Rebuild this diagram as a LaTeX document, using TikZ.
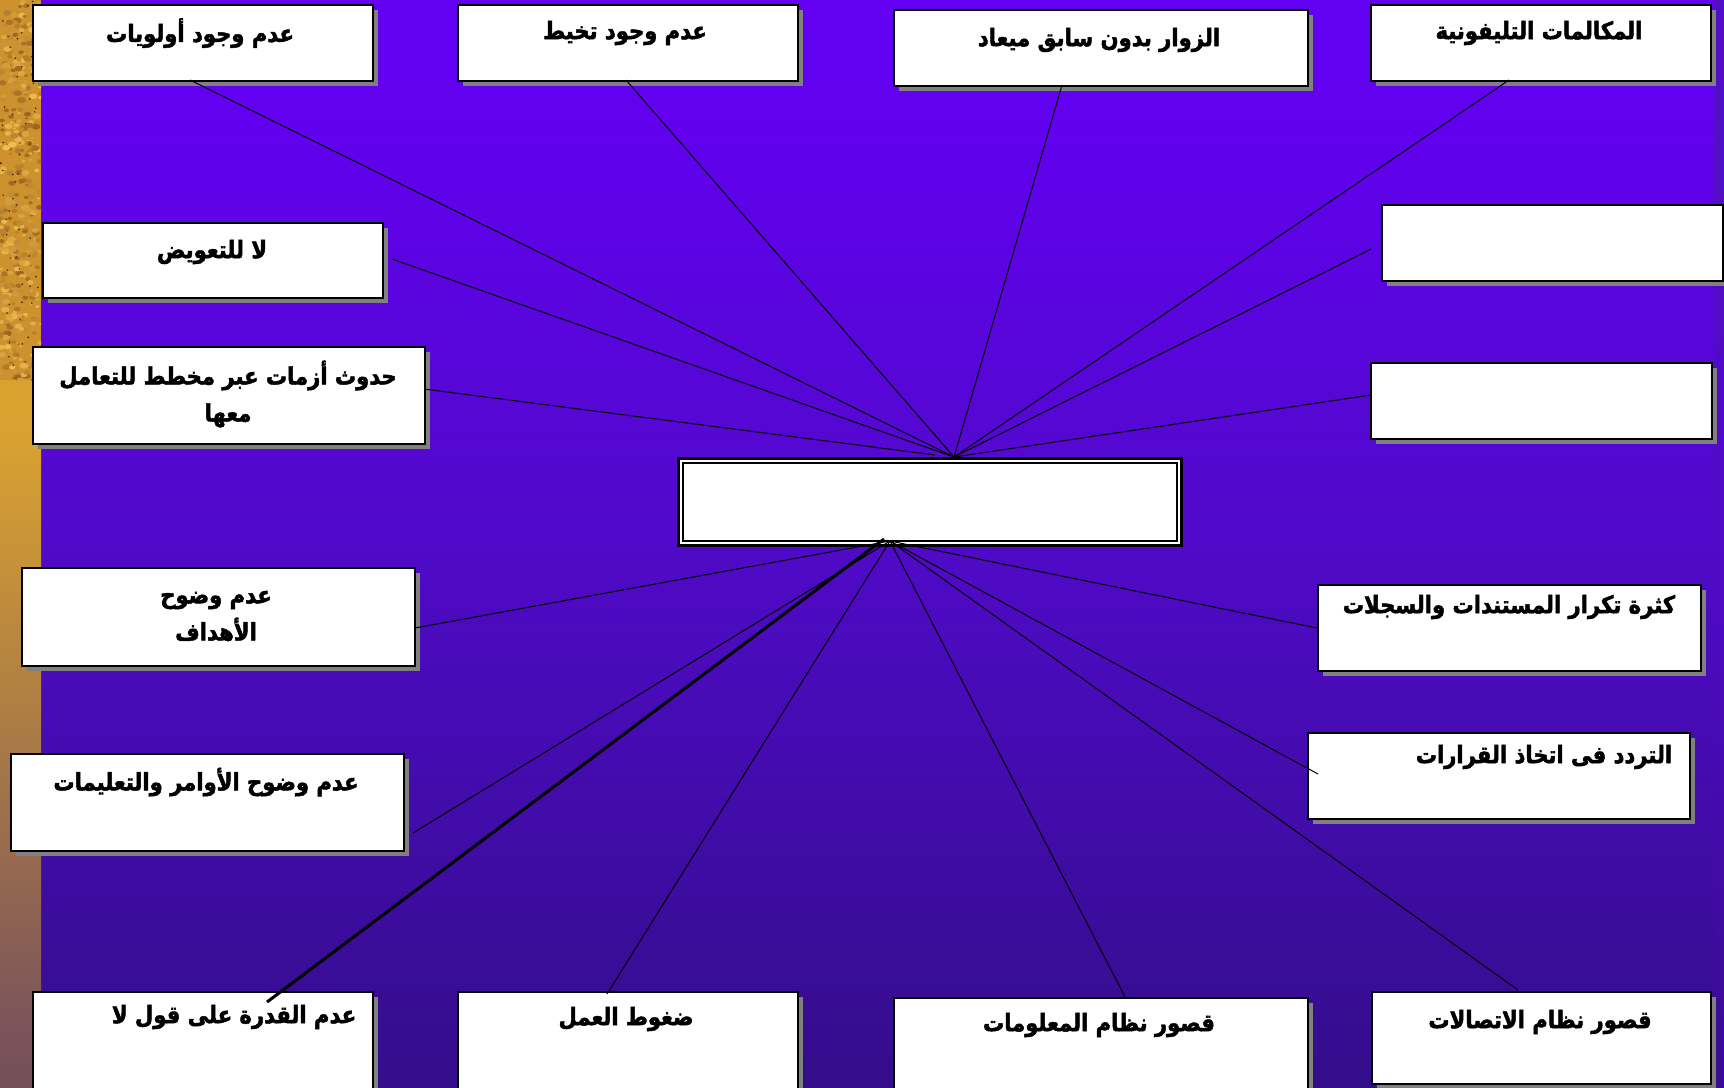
\documentclass[tikz,border=0pt]{standalone}
\usepackage{fontspec}
\newfontfamily\arabicfont[Script=Arabic, FakeBold=2, FakeStretch=0.88]{DejaVu Sans Bold}
\TeXXeTstate=1
\usetikzlibrary{shadows}
\definecolor{bgtop}{RGB}{102,0,250}
\definecolor{bgtopb}{RGB}{98,0,240}
\definecolor{bgmid}{RGB}{80,10,200}
\definecolor{bglow}{RGB}{45,14,125}
\definecolor{bgbot}{RGB}{32,12,88}
\definecolor{stripA}{RGB}{228,172,30}
\definecolor{stripB}{RGB}{215,160,50}
\definecolor{stripC}{RGB}{125,85,90}
\definecolor{stripD}{RGB}{70,45,85}
\definecolor{sandbase}{RGB}{205,145,45}
\definecolor{sandlight}{RGB}{238,190,80}
\definecolor{sanddark}{RGB}{160,100,30}
\definecolor{rstripT}{RGB}{85,18,195}
\definecolor{rstripB}{RGB}{34,12,86}
\definecolor{shadowgray}{RGB}{128,128,128}
\pgfdeclareverticalshading{bgshade}{100bp}{color(0bp)=(bgbot); color(20bp)=(bglow); color(50bp)=(bgmid); color(70bp)=(bgtopb); color(100bp)=(bgtop)}
\pgfdeclareverticalshading{stripshade}{100bp}{color(0bp)=(stripD); color(30bp)=(stripC); color(70bp)=(stripB); color(100bp)=(stripA)}
\pgfdeclareverticalshading{rstripshade}{100bp}{color(0bp)=(rstripB); color(50bp)=(bgmid); color(100bp)=(rstripT)}
\tikzset{
  box/.style={draw=black, line width=1.6pt, fill=white, inner sep=0pt, anchor=north west,
    drop shadow={shadow xshift=5pt, shadow yshift=-5pt, fill=shadowgray, opacity=1}},
  lbl/.style={font=\arabicfont\fontsize{24}{37}\selectfont, text=black, align=center, inner sep=0pt},
  conn/.style={draw=black, line width=1pt},
  thickconn/.style={draw=black, line width=3pt}
}
\begin{document}
\begin{tikzpicture}[x=1pt,y=-1pt]
\useasboundingbox (0,0) rectangle (1724,1087);
% background
\fill[shading=bgshade] (0,0) rectangle (1724,1087);
\fill[shading=stripshade] (0,380) rectangle (41,1087);
\fill[shading=rstripshade] (1714,0) rectangle (1724,1087);
\begin{scope}
  \clip (0,0) rectangle (41,380);
  \fill[sandbase] (0,0) rectangle (41,380);
  \pgfmathsetseed{7}
  \foreach \i in {1,...,420}{
    \pgfmathsetmacro\rx{rnd*41}
    \pgfmathsetmacro\ry{rnd*380}
    \pgfmathsetmacro\rs{1.5+rnd*3}
    \pgfmathtruncatemacro\rc{rnd*100}
    \fill[sandlight!\rc!sanddark] (\rx,\ry) ellipse ({\rs} and {\rs*0.7});
  }
  \foreach \i in {1,...,60}{
    \pgfmathsetmacro\rx{rnd*41}
    \pgfmathsetmacro\ry{rnd*380}
    \fill[black!60!sanddark] (\rx,\ry) circle (0.9);
  }
\end{scope}
% boxes
\node[box, minimum width=340pt, minimum height=76pt] (A) at (32,4) {};
\node[box, minimum width=340pt, minimum height=76pt] (B) at (457,4) {};
\node[box, minimum width=414pt, minimum height=76pt] (C) at (893,9) {};
\node[box, minimum width=340pt, minimum height=76pt] (D) at (1370,4) {};
\node[box, minimum width=341pt, minimum height=76pt] (E) at (1381,204) {};
\node[box, minimum width=341pt, minimum height=76pt] (F) at (1370,362) {};
\node[box, minimum width=340pt, minimum height=75pt] (G) at (42,222) {};
\node[box, minimum width=392pt, minimum height=97pt] (H) at (32,346) {};
\node[box, minimum width=393pt, minimum height=98pt] (J) at (21,567) {};
\node[box, minimum width=393pt, minimum height=97pt] (K) at (10,753) {};
\node[box, minimum width=383pt, minimum height=86pt] (L) at (1317,584) {};
\node[box, minimum width=382pt, minimum height=86pt] (M) at (1307,732) {};
\node[box, minimum width=340pt, minimum height=120pt] (N) at (32,991) {};
\node[box, minimum width=340pt, minimum height=120pt] (O) at (457,991) {};
\node[box, minimum width=414pt, minimum height=120pt] (P) at (893,997) {};
\node[box, minimum width=339pt, minimum height=92pt] (Q) at (1371,991) {};
% center box with double frame
\node[draw=black, line width=3pt, fill=white, inner sep=0pt, anchor=north west,
  minimum width=503pt, minimum height=87pt] (I) at (677,457) {};
\draw[line width=2pt] ([shift={(6pt,-6pt)}]I.north west) rectangle ([shift={(-6pt,6pt)}]I.south east);
% labels
\node[lbl] (tA) at (200,33) {\beginR عدم وجود أولويات\endR};
\node[lbl] (tB) at (625,33) {\beginR عدم وجود تخيط\endR};
\node[lbl] (tC) at (1099,40) {\beginR الزوار بدون سابق ميعاد\endR};
\node[lbl] (tD) at (1539,33) {\beginR المكالمات التليفونية\endR};
\node[lbl] (tG) at (212,252) {\beginR لا للتعويض\endR};
\node[lbl] (tH) at (228,394) {\beginR حدوث أزمات عبر مخطط للتعامل\endR\\\beginR معها\endR};
\node[lbl] (tJ) at (216,616) {\beginR عدم وضوح\endR\\\beginR الأهداف\endR};
\node[lbl] (tK) at (206,782) {\beginR عدم وضوح الأوامر والتعليمات\endR};
\node[lbl] (tL) at (1509,607) {\beginR كثرة تكرار المستندات والسجلات\endR};
\node[lbl] (tM) at (1544,757) {\beginR التردد فى اتخاذ القرارات\endR};
\node[lbl] (tN) at (234,1017) {\beginR عدم القدرة على قول لا\endR};
\node[lbl] (tO) at (626,1019) {\beginR ضغوط العمل\endR};
\node[lbl] (tP) at (1099,1025) {\beginR قصور نظام المعلومات\endR};
\node[lbl] (tQ) at (1540,1022) {\beginR قصور نظام الاتصالات\endR};
% connector end points
\coordinate (cT) at (954,457);
\coordinate (cTh) at (935,455);
\coordinate (cB) at (890,541);
\coordinate (cBn) at (884,539);
\coordinate (sA) at (190,80);
\coordinate (sB) at (626,80);
\coordinate (sC) at (1062,85);
\coordinate (sD) at (1509,80);
\coordinate (sE) at (1371,249);
\coordinate (sF) at (1371,395);
\coordinate (sG) at (392,259);
\coordinate (sH) at (424,389);
\coordinate (sJ) at (415,628);
\coordinate (sK) at (413,833);
\coordinate (sL) at (1317,628);
\coordinate (sM) at (1318,774);
\coordinate (sN) at (267,1002);
\coordinate (sO) at (607,994);
\coordinate (sP) at (1125,997);
\coordinate (sQ) at (1518,990);
% connectors
\draw[conn] (sA) -- (cT);
\draw[conn] (sB) -- (cT);
\draw[conn] (sC) -- (cT);
\draw[conn] (sD) -- (cT);
\draw[conn] (sE) -- (cT);
\draw[conn] (sF) -- (cT);
\draw[conn] (sG) -- (cT);
\draw[conn] (sH) -- (cTh);
\draw[conn] (sJ) -- (cB);
\draw[conn] (sK) -- (cB);
\draw[conn] (sL) -- (cB);
\draw[conn] (sM) -- (cB);
\draw[thickconn] (sN) -- (cBn);
\draw[conn] (sO) -- (cB);
\draw[conn] (sP) -- (cB);
\draw[conn] (sQ) -- (cB);
\end{tikzpicture}
\end{document}
